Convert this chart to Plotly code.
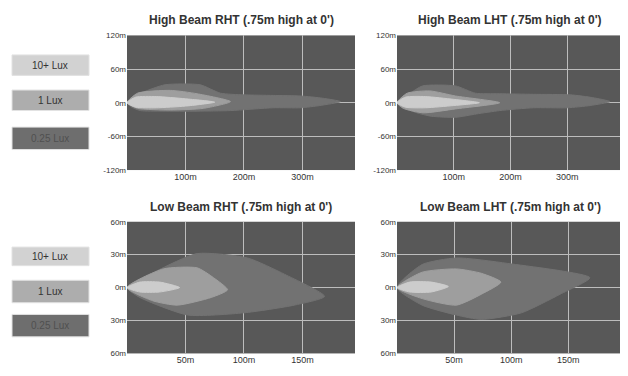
import plotly.graph_objects as go

# ---------------- data (metres) ----------------
HB_RHT_025_X = [0, 10, 23, 65, 125, 160, 200, 250, 297, 335, 365, 330, 297, 250, 177, 120, 60, 23, 8, 0]
HB_RHT_025_Y = [0, 10, 17, 32, 32, 17, 14, 13, 12, 8, 2, -5, -9, -9, -14, -15, -15, -14, -8, 0]
HB_RHT_1_X = [0, 18, 74, 120, 177, 131, 74, 18, 0]
HB_RHT_1_Y = [0, 17, 22, 16, 2, -10, -13, -10, 0]
HB_RHT_10_X = [0, 15, 50, 100, 150, 100, 50, 15, 0]
HB_RHT_10_Y = [0, 10, 11, 7, 1, -6, -9, -8, 0]

HB_LHT_025_X = [0, 10, 23, 45, 103, 138, 180, 240, 306, 345, 375, 340, 300, 240, 181, 140, 103, 60, 35, 10, 0]
HB_LHT_025_Y = [0, 10, 17, 30, 30, 17, 16, 15, 14, 9, 2, -5, -9, -9, -14, -20, -26, -24, -18, -8, 0]
HB_LHT_1_X = [0, 18, 58, 103, 181, 103, 46, 11, 0]
HB_LHT_1_Y = [0, 17, 21, 12, 0, -11, -18, -10, 0]
HB_LHT_10_X = [0, 15, 50, 100, 145, 100, 50, 15, 0]
HB_LHT_10_Y = [0, 10, 11, 6, 0, -5, -9, -8, 0]

LB_RHT_025_X = [0, 25, 60, 103, 135, 169, 143, 100, 52, 11, 0]
LB_RHT_025_Y = [0, 15, 31, 27, 12, -8, -16, -23, -25, -9, 0]
LB_RHT_1_X = [0, 31, 60, 74, 86, 72, 43, 22, 0]
LB_RHT_1_Y = [0, 17, 18, 9, -2, -9, -16, -12, 0]
LB_RHT_10_X = [0, 11, 28, 45, 28, 11, 0]
LB_RHT_10_Y = [0, 5, 5, 0, -4, -4, 0]

LB_LHT_025_X = [0, 22, 52, 97, 169, 143, 109, 74, 52, 22, 0]
LB_LHT_025_Y = [0, 21, 27, 22, 9, -6, -23, -29, -25, -16, 0]
LB_LHT_1_X = [0, 22, 52, 74, 91, 74, 52, 22, 0]
LB_LHT_1_Y = [0, 14, 17, 13, 5, -6, -16, -10, 0]
LB_LHT_10_X = [0, 11, 30, 45, 30, 11, 0]
LB_LHT_10_Y = [0, 5, 5, 1, -4, -4, 0]

TITLES = ["High Beam RHT (.75m high at 0')", "High Beam LHT (.75m high at 0')",
          "Low Beam RHT (.75m high at 0')", "Low Beam LHT (.75m high at 0')"]
HB_YTICKS = [120, 60, 0, -60, -120]
HB_YLABELS = ["120m", "60m", "0m", "-60m", "-120m"]
LB_YTICKS = [60, 30, 0, -30, -60]
LB_YLABELS = ["60m", "30m", "0m", "30m", "60m"]
HB_XTICKS = [100, 200, 300]
HB_XLABELS = ["100m", "200m", "300m"]
LB_XTICKS = [50, 100, 150]
LB_XLABELS = ["50m", "100m", "150m"]
LEGEND_LABELS = ["10+ Lux", "1 Lux", "0.25 Lux"]

# ---------------- style ----------------
BG = "#585858"
C025 = "#727272"
C1 = "#9e9e9e"
C10 = "#cccccc"
GRID = "#bdbdbd"
FONT = "Liberation Sans, Arial"

panels = [
    ("x", "y", [(HB_RHT_025_X, HB_RHT_025_Y, C025), (HB_RHT_1_X, HB_RHT_1_Y, C1), (HB_RHT_10_X, HB_RHT_10_Y, C10)]),
    ("x2", "y2", [(HB_LHT_025_X, HB_LHT_025_Y, C025), (HB_LHT_1_X, HB_LHT_1_Y, C1), (HB_LHT_10_X, HB_LHT_10_Y, C10)]),
    ("x3", "y3", [(LB_RHT_025_X, LB_RHT_025_Y, C025), (LB_RHT_1_X, LB_RHT_1_Y, C1), (LB_RHT_10_X, LB_RHT_10_Y, C10)]),
    ("x4", "y4", [(LB_LHT_025_X, LB_LHT_025_Y, C025), (LB_LHT_1_X, LB_LHT_1_Y, C1), (LB_LHT_10_X, LB_LHT_10_Y, C10)]),
]

fig = go.Figure()
for xa, ya, shapes in panels:
    for xs, ys, col in shapes:
        fig.add_trace(go.Scatter(x=xs, y=ys, xaxis=xa, yaxis=ya, mode="lines",
                                 fill="toself", fillcolor=col,
                                 line=dict(color=col, width=1, shape="spline", smoothing=0.6),
                                 hoverinfo="skip", showlegend=False))

# page has an 8px body margin; figure is sized to fill the rest of the window
OFF = 8
W, H = 628 - OFF, 376 - OFF
def px_x(p): return (p - OFF) / W
def px_y(p): return 1 - (p - OFF) / H

xdoms = [(px_x(127), px_x(355)), (px_x(397), px_x(623))]
ydoms = [(px_y(170), px_y(32)), (px_y(358), px_y(223))]

common_x = dict(showgrid=True, gridcolor=GRID, gridwidth=1, zeroline=False, showline=False,
                ticks="", tickfont=dict(family=FONT, size=9, color="#333333"), fixedrange=True)
common_y = dict(showgrid=True, gridcolor=GRID, gridwidth=1, zeroline=False, showline=False,
                ticks="", tickfont=dict(family=FONT, size=8, color="#333333"), fixedrange=True)

fig.update_layout(width=W, height=H, margin=dict(l=0, r=0, t=0, b=0),
                  paper_bgcolor="white", plot_bgcolor=BG, showlegend=False)

axis_cfg = [
    ("xaxis", "yaxis", "y", "x", xdoms[0], ydoms[0], [0, 390], [-120, 120], HB_XTICKS, HB_XLABELS, HB_YTICKS, HB_YLABELS),
    ("xaxis2", "yaxis2", "y2", "x2", xdoms[1], ydoms[0], [0, 398], [-120, 120], HB_XTICKS, HB_XLABELS, HB_YTICKS, HB_YLABELS),
    ("xaxis3", "yaxis3", "y3", "x3", xdoms[0], ydoms[1], [0, 195], [-60, 60], LB_XTICKS, LB_XLABELS, LB_YTICKS, LB_YLABELS),
    ("xaxis4", "yaxis4", "y4", "x4", xdoms[1], ydoms[1], [0, 198], [-60, 60], LB_XTICKS, LB_XLABELS, LB_YTICKS, LB_YLABELS),
]
for xk, yk, anchor_y, anchor_x, xd, yd, xr, yr, xt, xl, yt, yl in axis_cfg:
    fig.update_layout(**{
        xk: dict(common_x, domain=list(xd), anchor=anchor_y, range=xr, tickvals=xt, ticktext=xl),
        yk: dict(common_y, domain=list(yd), anchor=anchor_x, range=yr, tickvals=yt, ticktext=yl),
    })

# panel titles
title_pos = [(241, 16), (510, 16), (241, 208), (510, 208)]
for t, (cx, cy) in zip(TITLES, title_pos):
    fig.add_annotation(x=px_x(cx), y=px_y(cy), xref="paper", yref="paper", text="<b>" + t + "</b>",
                       showarrow=False, font=dict(family=FONT, size=12, color="#333333"),
                       xanchor="center", yanchor="middle")

# legend boxes
box_fills = ["#d2d2d2", "#adadad", "#6e6e6e"]
box_text = ["#333333", "#333333", "#505050"]
box_rows = [[(52, 73), (88, 109), (126, 149)], [(249, 268), (283, 306), (318, 341)]]
for rows in box_rows:
    for (y0, y1), lab, fc, tc in zip(rows, LEGEND_LABELS, box_fills, box_text):
        fig.add_shape(type="rect", xref="paper", yref="paper", x0=px_x(12), x1=px_x(89),
                      y0=px_y(y1), y1=px_y(y0), fillcolor=fc, line=dict(color="#e2e2e2", width=1))
        fig.add_annotation(x=px_x(50), y=px_y((y0 + y1) / 2), xref="paper", yref="paper", text=lab,
                           showarrow=False, xanchor="center", yanchor="middle",
                           font=dict(family=FONT, size=10, color=tc))

fig.write_html("out.html")
